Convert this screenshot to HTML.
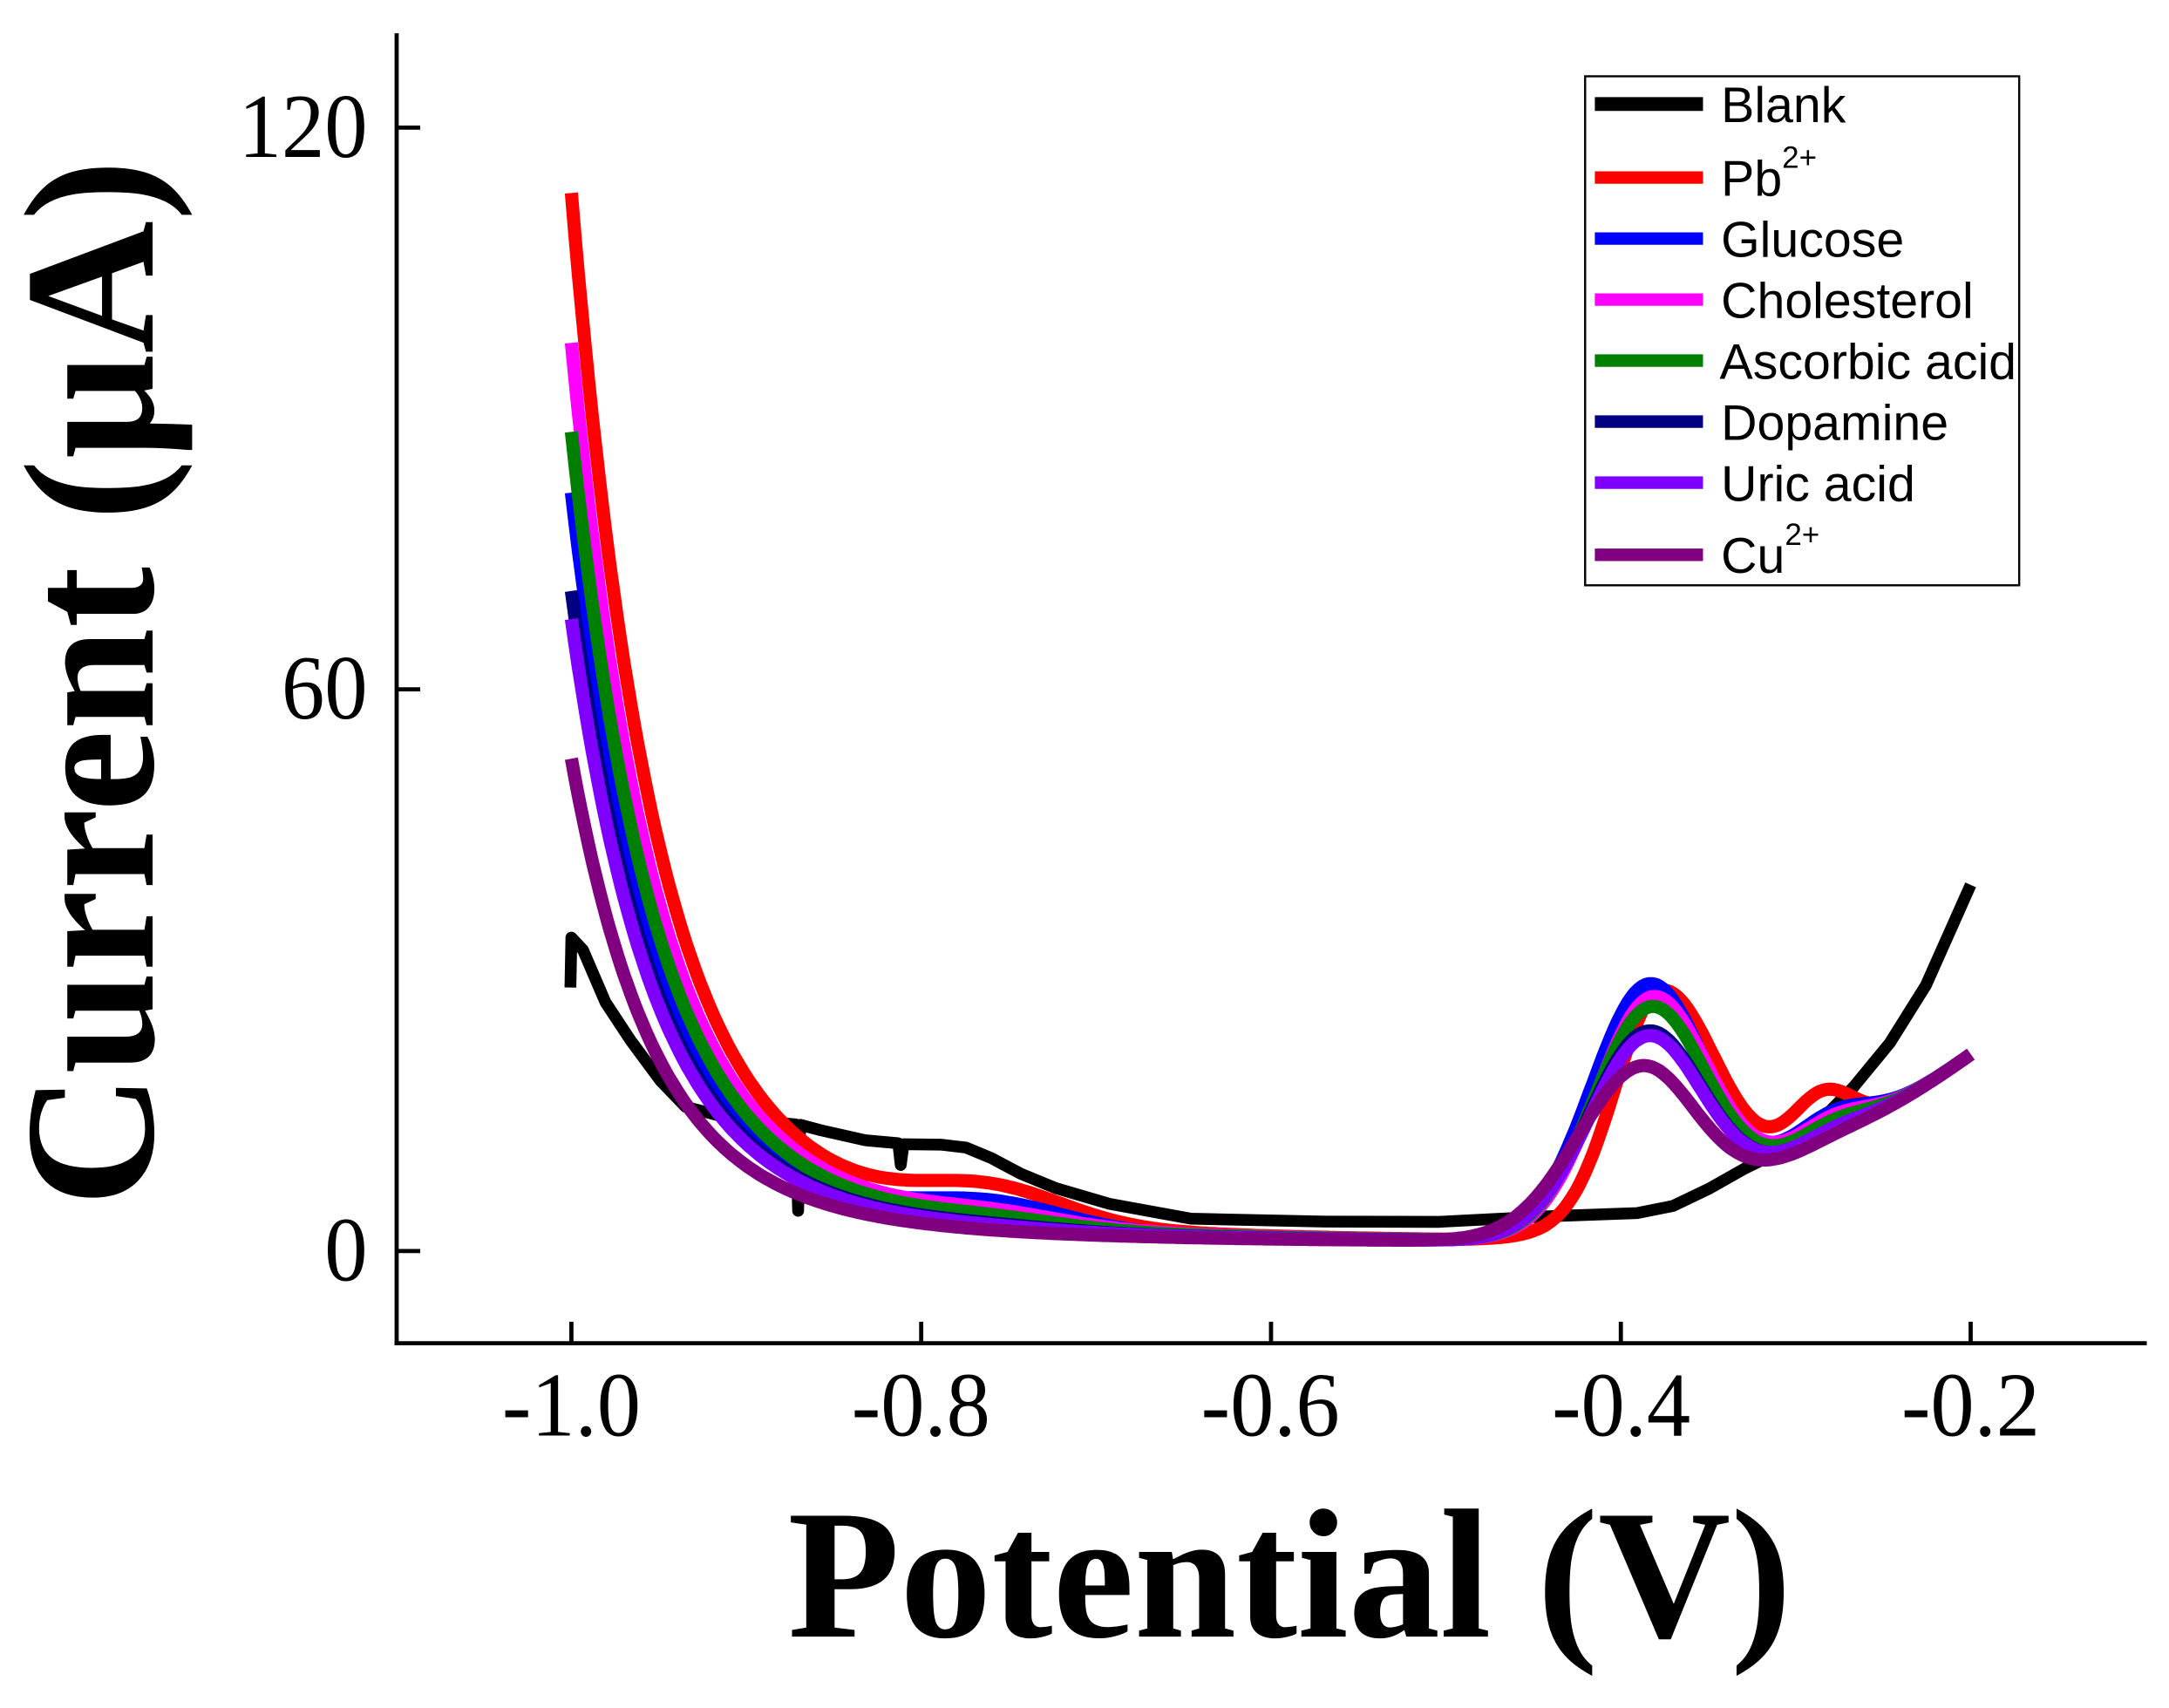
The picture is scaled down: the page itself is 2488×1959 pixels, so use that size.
<!DOCTYPE html>
<html><head><meta charset="utf-8"><style>
html,body{margin:0;padding:0;background:#fff;}
svg{display:block;}
</style></head><body>
<svg id="s" width="2488" height="1959" viewBox="0 0 1564 1231.5" xmlns="http://www.w3.org/2000/svg">
<rect x="0" y="0" width="1564" height="1232" fill="#fff"/>
<g id="curves" fill="none" stroke-linejoin="round" stroke-linecap="butt"></g>
<g stroke="#000" stroke-width="3" fill="none">
<line x1="286" y1="24" x2="286" y2="970"/>
<line x1="284.5" y1="968.5" x2="1548" y2="968.5"/>
<line x1="286" y1="92" x2="303" y2="92"/>
<line x1="286" y1="497" x2="303" y2="497"/>
<line x1="286" y1="902" x2="303" y2="902"/>
<line x1="412" y1="968" x2="412" y2="953"/>
<line x1="664.25" y1="968" x2="664.25" y2="953"/>
<line x1="916.5" y1="968" x2="916.5" y2="953"/>
<line x1="1168.75" y1="968" x2="1168.75" y2="953"/>
<line x1="1421" y1="968" x2="1421" y2="953"/>
</g>
<g font-family="Liberation Serif, serif" font-size="66" fill="#000">
<text x="265" y="113" text-anchor="end" textLength="93" lengthAdjust="spacingAndGlyphs">120</text>
<text x="265" y="518" text-anchor="end" textLength="62" lengthAdjust="spacingAndGlyphs">60</text>
<text x="265" y="923" text-anchor="end" textLength="31" lengthAdjust="spacingAndGlyphs">0</text>
<text x="362" y="1035" textLength="100" lengthAdjust="spacingAndGlyphs">-1.0</text>
<text x="614" y="1035" textLength="100" lengthAdjust="spacingAndGlyphs">-0.8</text>
<text x="866" y="1035" textLength="100" lengthAdjust="spacingAndGlyphs">-0.6</text>
<text x="1119" y="1035" textLength="100" lengthAdjust="spacingAndGlyphs">-0.4</text>
<text x="1371" y="1035" textLength="100" lengthAdjust="spacingAndGlyphs">-0.2</text>
</g>
<text x="568" y="1180" font-family="Liberation Serif, serif" font-weight="bold" font-size="133" textLength="724" lengthAdjust="spacingAndGlyphs">Potential (V)</text>
<text transform="translate(110,870) rotate(-90)" x="0" y="0" font-family="Liberation Serif, serif" font-weight="bold" font-size="134" textLength="755" lengthAdjust="spacingAndGlyphs">Current (µA)</text>
<rect x="1143" y="55" width="313" height="367" fill="#fff" stroke="#000" stroke-width="1.5"/>
<g stroke-width="9">
<line x1="1150" y1="75" x2="1228" y2="75" stroke="#000" stroke-width="10"/>
<line x1="1150" y1="128" x2="1228" y2="128" stroke="#ff0000"/>
<line x1="1150" y1="172" x2="1228" y2="172" stroke="#0000ff"/>
<line x1="1150" y1="216" x2="1228" y2="216" stroke="#ff00ff"/>
<line x1="1150" y1="260" x2="1228" y2="260" stroke="#008000"/>
<line x1="1150" y1="304" x2="1228" y2="304" stroke="#000080"/>
<line x1="1150" y1="348" x2="1228" y2="348" stroke="#8000ff"/>
<line x1="1150" y1="400" x2="1228" y2="400" stroke="#800080"/>
</g>
<g font-family="Liberation Sans, Arial, sans-serif" font-size="36" fill="#000">
<text x="1241" y="88">Blank</text>
<text x="1241" y="141">Pb<tspan font-size="22" dy="-20">2+</tspan></text>
<text x="1241" y="185">Glucose</text>
<text x="1241" y="229">Cholesterol</text>
<text x="1240" y="273">Ascorbic acid</text>
<text x="1241" y="317">Dopamine</text>
<text x="1241" y="361">Uric acid</text>
<text x="1241" y="413">Cu<tspan font-size="22" dy="-20">2+</tspan></text>
</g>
</svg>
<script>
(function(){
var NS="http://www.w3.org/2000/svg";
var g=document.getElementById("curves");
function X(v){return 412+(v+1)*1261.25;}
function Y(i){return 902-6.75*i;}
function add(d,col,w){var p=document.createElementNS(NS,"path");p.setAttribute("d",d);p.setAttribute("stroke",col);p.setAttribute("stroke-width",w);g.appendChild(p);}
var bl=[[411.3,712],[412,676],[420.4,685],[425.8,697.6],[436.6,722.7],[454.6,750],[476.3,779.3],[494.3,798],[526.8,806.5],[573.7,810.7],[575.5,873],[577,811],[591.8,814.9],[624.2,822.2],[647.7,824.3],[649.5,840],[651.5,825],[678.3,825.3],[696.4,827.4],[714.4,834.8],[736.1,846.3],[761.3,856.7],[800,868],[858.7,878.7],[955.5,880.8],[1037,881],[1115.3,877],[1180.4,874.7],[1206.4,869.5],[1232.5,857],[1258.5,842.3],[1297.6,823.4],[1336.7,783.6],[1362.7,752],[1388.8,710.3],[1421,638]];
add("M"+bl.map(function(p){return p[0]+","+p[1];}).join(" L"),"#000",8.5);
var S=[
 {c:"#ff0000",A:112,sh:3.5,P:23.4,Vp:-0.378,wl:0.036,wr:0.045,a2:5.5,V2:-0.285,w2:0.025},
 {c:"#0000ff",A:80,sh:2.5,P:24.5,Vp:-0.385,wl:0.045,wr:0.045,a2:3,V2:-0.28,w2:0.03},
 {c:"#ff00ff",A:96,sh:1.2,P:23,Vp:-0.383,wl:0.044,wr:0.045,a2:2.5,V2:-0.28,w2:0.03},
 {c:"#008000",A:86.5,sh:0.8,P:22,Vp:-0.384,wl:0.045,wr:0.045,a2:2,V2:-0.28,w2:0.03},
 {c:"#000080",A:69.5,sh:0.3,P:19.5,Vp:-0.386,wl:0.046,wr:0.045,a2:1,V2:-0.28,w2:0.03},
 {c:"#8000ff",A:66.5,sh:0.2,P:19,Vp:-0.386,wl:0.046,wr:0.045,a2:1.2,V2:-0.28,w2:0.03},
 {c:"#800080",A:51.6,sh:0,P:16,Vp:-0.39,wl:0.05,wr:0.045,a2:0.5,V2:-0.28,w2:0.03}
];
S.forEach(function(s){
 var pts=[];
 for(var v=-1;v<=-0.1999;v+=0.002){
  var d=v+1;
  var I=1+s.A*(0.85*Math.exp(-d/0.045)+0.15*Math.exp(-d/0.12));
  I+=s.sh*Math.exp(-Math.pow((v+0.76)/0.06,2));
  var w=v<s.Vp?s.wl:s.wr;
  I+=s.P*Math.exp(-Math.pow((v-s.Vp)/w,2));
  I+=s.a2*Math.exp(-Math.pow((v-s.V2)/s.w2,2));
  if(v>-0.5){I+=20*Math.pow((v+0.5)/0.3,2);}
  pts.push(X(v).toFixed(1)+","+Y(I).toFixed(1));
 }
 add("M"+pts.join(" L"),s.c,9.5);
});
})();
</script>
</body></html>
